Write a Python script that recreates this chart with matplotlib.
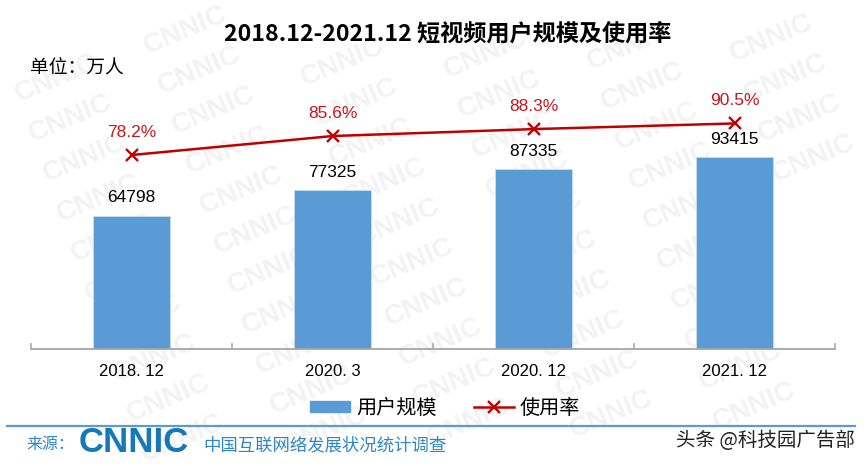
import matplotlib
matplotlib.use("Agg")
import matplotlib.pyplot as plt
from matplotlib.patches import Patch
from matplotlib.lines import Line2D

W, H = 866, 466
CJK = ['Noto Sans CJK SC', 'DejaVu Sans']
LAT = ['Liberation Sans', 'Noto Sans CJK SC']

categories = ['2018. 12', '2020. 3', '2020. 12', '2021. 12']
users = [64798, 77325, 87335, 93415]
rate = [78.2, 85.6, 88.3, 90.5]
rate_labels = ['78.2%', '85.6%', '88.3%', '90.5%']
bar_name = '用户规模'
line_name = '使用率'

fig = plt.figure(figsize=(W / 100, H / 100), dpi=100)
fx = lambda x: x / W
fy = lambda y: 1 - y / H

# background layer carrying the watermark lattice, beneath the chart
bg = fig.add_axes([0, 0, 1, 1], zorder=-5)
bg.set_xlim(0, W)
bg.set_ylim(H, 0)
bg.axis('off')
for i in range(-3, 9):
    for j in range(-2, 14):
        x = 43 + i * 143 + j * 14
        y = 118 - i * 8 + (j - 2) * 40
        if 48 < x < 815 and 28 < y < 445:
            bg.text(x, y, 'CNNIC', fontsize=20, fontweight='bold', family=['Liberation Sans'],
                    color='#f3f3f3', rotation=23, ha='center', va='center')

ax = fig.add_axes([fx(31), fy(349), (835 - 31) / W, (349 - 60) / H], zorder=1)
ax.patch.set_alpha(0)
xs = list(range(len(categories)))
ax.bar(xs, users, width=0.388, color='#5b9bd5', edgecolor='#c9ddf0', linewidth=0.6, zorder=2)
ax.set_xlim(-0.5, 3.5)
ax.set_ylim(0, 140600)
ax.set_yticks([])
for s in ('top', 'left', 'right'):
    ax.spines[s].set_visible(False)
ax.spines['bottom'].set_color('#a6a6a6')
ax.spines['bottom'].set_linewidth(1.3)
ax.set_xticks(xs)
ax.set_xticklabels(categories, family=LAT, fontsize=12, color='black')
ax.tick_params(axis='x', which='major', length=0, pad=11)
ax.set_xticks([-0.5, 0.5, 1.5, 2.5, 3.5], minor=True)
ax.tick_params(axis='x', which='minor', direction='in', length=4, color='#a6a6a6', width=1.1)

for x, v in zip(xs, users):
    ax.annotate(str(v), (x, v), xytext=(0, 7.5), textcoords='offset points', ha='center',
                va='bottom', fontsize=12.5, family=LAT, color='black', zorder=5)

ax2 = ax.twinx()
ax2.set_zorder(2)
ax2.patch.set_alpha(0)
ax2.set_ylim(2.7, 115.2)
ax2.set_yticks([])
for s in ax2.spines.values():
    s.set_visible(False)
ax2.plot(xs, rate, color='#c00000', linewidth=1.8, marker='x', markersize=9,
         markeredgewidth=1.7, zorder=4)
for x, v, t in zip(xs, rate, rate_labels):
    ax2.annotate(t, (x, v), xytext=(0, 11), textcoords='offset points', ha='center',
                 va='bottom', fontsize=12.5, family=LAT, color='#c8161d')

fig.text(fx(447.5), fy(35), '2018.12-2021.12 短视频用户规模及使用率', fontsize=16.7, fontweight='bold',
         family=CJK, ha='center', va='center', color='black')
fig.text(fx(30), fy(68), '单位：万人', fontsize=13.5, family=CJK, ha='left', va='center', color='black')

handles = [Patch(facecolor='#5b9bd5', edgecolor='#5b9bd5', label=bar_name),
           Line2D([0], [0], color='#c00000', linewidth=1.8, marker='x', markersize=9,
                  markeredgewidth=1.7, label=line_name)]
fig.legend(handles=handles, loc='center', bbox_to_anchor=(fx(445), fy(408)), ncol=2, frameon=False,
           prop={'family': CJK, 'size': 14.5}, handlelength=2.0, handleheight=0.45,
           handletextpad=0.3, columnspacing=1.85)

fig.add_artist(Line2D([fx(7), fx(855)], [fy(426), fy(426)], color='#5b9bd5', linewidth=1.6))
fig.text(fx(26), fy(445), '来源：', fontsize=11.5, family=CJK, ha='left', va='center', color='#2e86c8')
fig.text(fx(134), fy(443), 'CNNIC', fontsize=25, fontweight='bold', family=['Liberation Sans'],
         ha='center', va='center', color='#1579b8')
fig.text(fx(203), fy(445), '中国互联网络发展状况统计调查', fontsize=12.5, family=CJK, ha='left',
         va='center', color='#2e86c8')
fig.text(fx(855), fy(441), '头条 @科技园广告部', fontsize=14, family=CJK, ha='right', va='center', color='#222222')

fig.savefig('out.png', dpi=100)
